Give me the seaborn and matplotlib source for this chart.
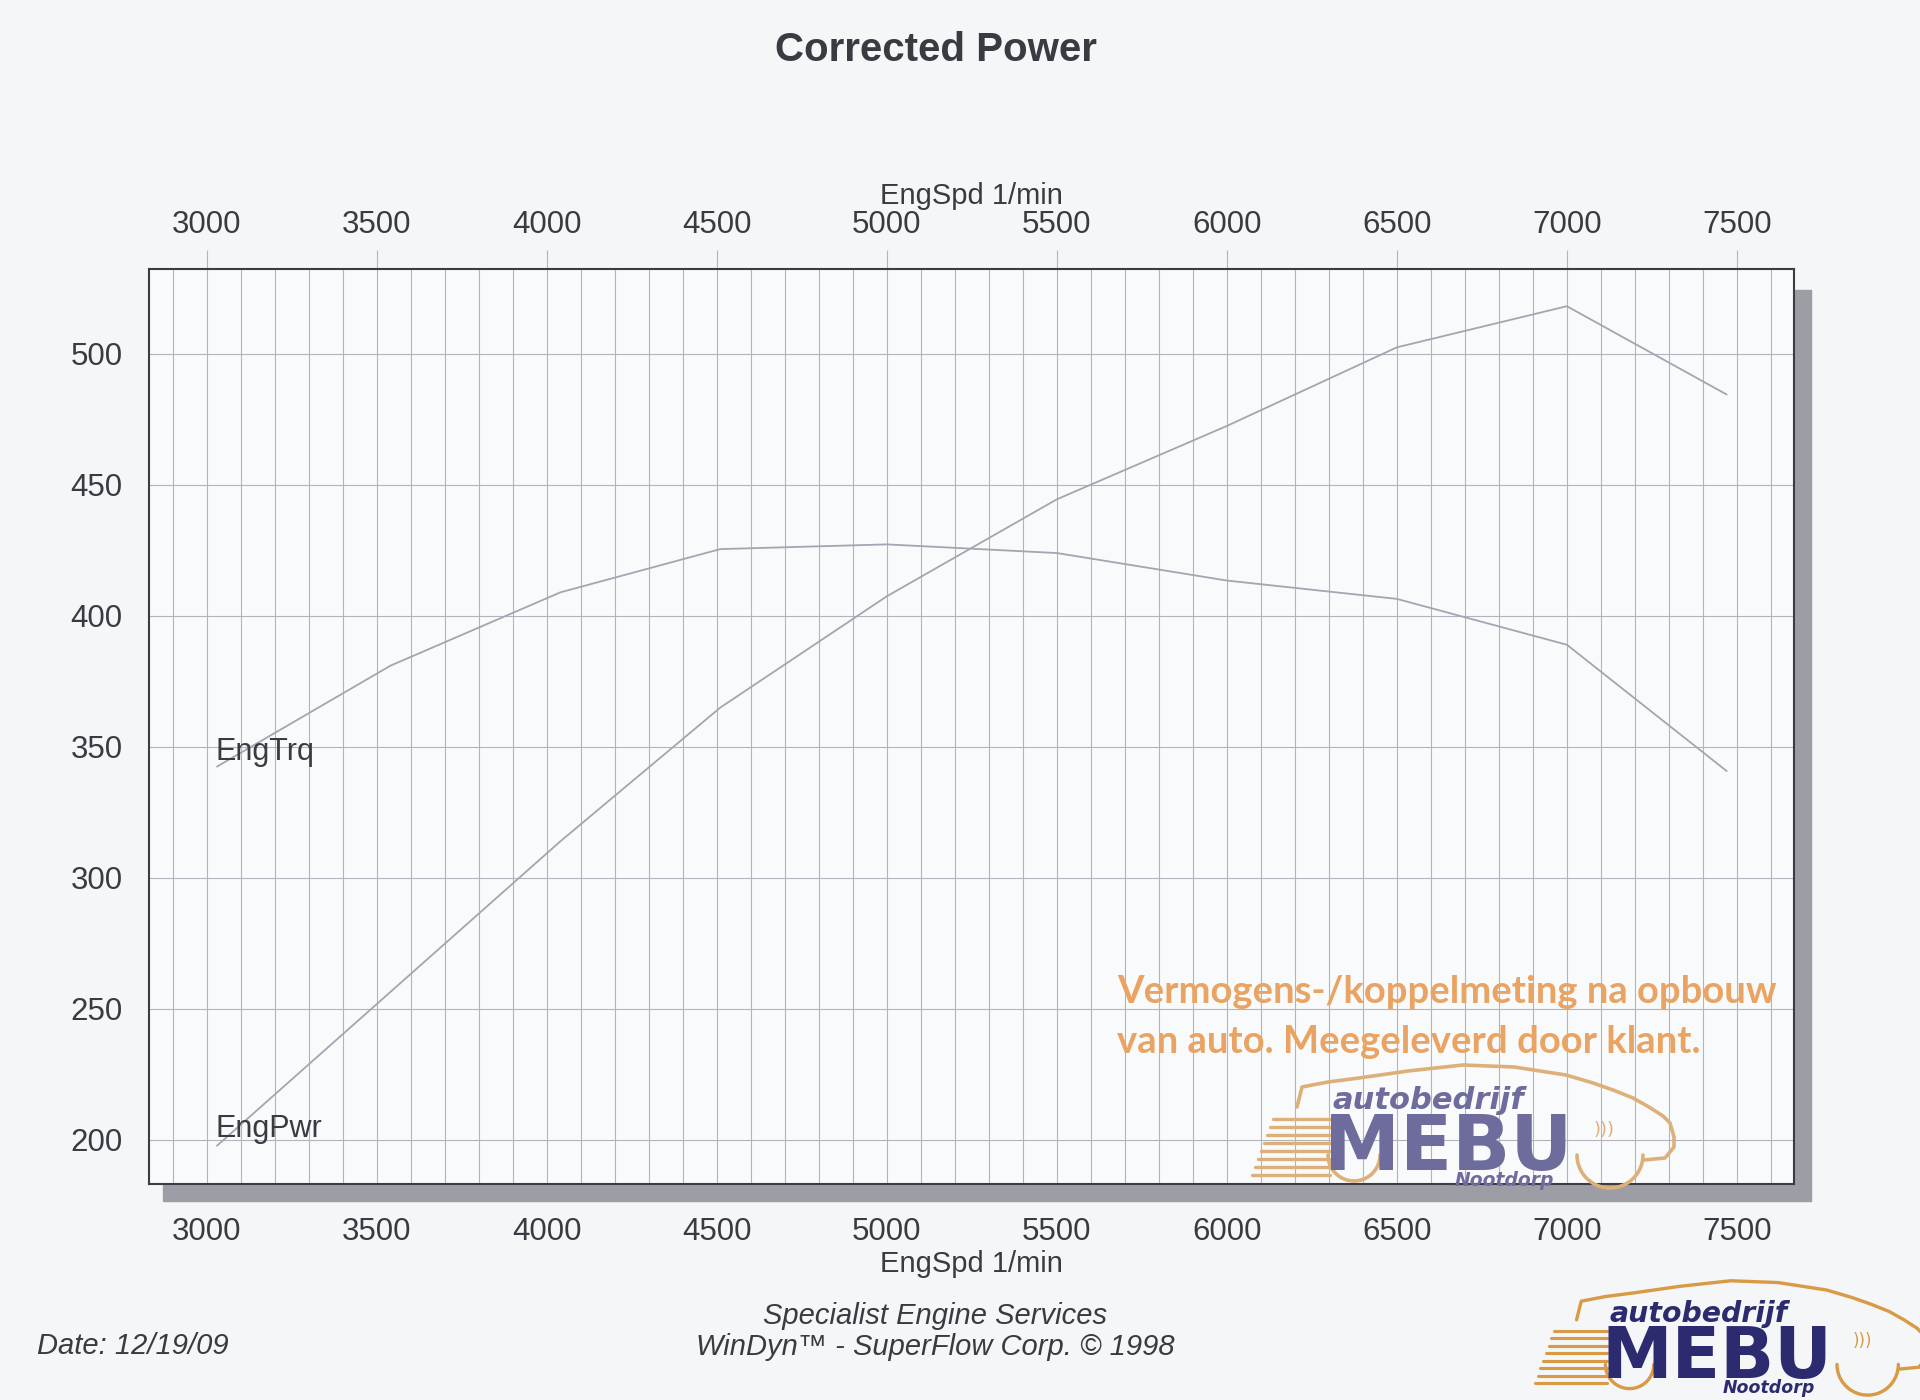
import pandas as pd
import matplotlib
matplotlib.use('Agg')
import matplotlib.pyplot as plt
from matplotlib.patches import Rectangle
from matplotlib.lines import Line2D
from matplotlib.ticker import MultipleLocator
import numpy as np
import seaborn as sns

# Dyno run, values
eng_spd = [3030, 3540, 4040, 4510, 5000, 5500, 6000, 6500, 7000, 7470]
eng_trq = [342.5, 381.0, 409.0, 425.5, 427.3, 424.0, 413.5, 406.5, 389.0, 340.8]
eng_pwr = [197.8, 256.5, 314.0, 365.0, 407.5, 444.5, 472.5, 502.5, 518.2, 484.5]

x_ticks = [3000, 3500, 4000, 4500, 5000, 5500, 6000, 6500, 7000, 7500]
y_ticks = [200, 250, 300, 350, 400, 450, 500]

df = pd.DataFrame({
    'EngSpd': eng_spd * 2,
    'value': eng_trq + eng_pwr,
    'series': ['EngTrq'] * len(eng_spd) + ['EngPwr'] * len(eng_spd),
})

sns.set_style('white')
plt.rcParams['font.family'] = ['Liberation Sans', 'DejaVu Sans']

W, H = 1920, 1400
PAPER = '#f5f6f8'
GRID = '#b3b3be'
TXT = '#3a3a42'
LINE = '#a4a5b2'


def fx(x):
    return x / W


def fy(y):
    return 1 - y / H


fig = plt.figure(figsize=(19.2, 14), dpi=100, facecolor=PAPER)
ax = fig.add_axes([fx(149), fy(1184), fx(1794) - fx(149), fy(269) - fy(1184)])
ax.set_facecolor('#f9fafb')

# drop shadow behind the plot box
fig.add_artist(Rectangle((fx(163), fy(1201)), fx(1811) - fx(163), fy(290) - fy(1201),
                         transform=fig.transFigure, color='#9d9da6', zorder=-1))

sns.lineplot(data=df, x='EngSpd', y='value', hue='series',
             palette={'EngTrq': LINE, 'EngPwr': LINE}, linewidth=1.3,
             estimator=None, sort=False, legend=False, ax=ax)

ax.set_xlim(2830, 7668)
ax.set_ylim(183.2, 532.4)
ax.set_xticks(x_ticks)
ax.set_xticklabels([str(t) for t in x_ticks])
ax.set_yticks(y_ticks)
ax.set_yticklabels([str(t) for t in y_ticks])
ax.xaxis.set_minor_locator(MultipleLocator(100))
ax.yaxis.set_minor_locator(MultipleLocator(10))

ax.grid(True, which='major', color=GRID, linewidth=0.8)
ax.grid(True, which='minor', axis='x', color=GRID, linewidth=0.8)
ax.set_axisbelow(True)

ax.tick_params(axis='x', which='major', direction='out', length=14, width=0.8,
               color=GRID, pad=10, labelsize=22.5, labelcolor=TXT)
ax.tick_params(axis='x', which='minor', length=0)
ax.tick_params(axis='y', which='major', direction='out', length=9, width=0.8,
               color=GRID, pad=10, labelsize=22.5, labelcolor=TXT)
ax.tick_params(axis='y', which='minor', direction='in', length=9, width=0.8, color=GRID)

for sp in ax.spines.values():
    sp.set_color('#3c3c44')
    sp.set_linewidth(1.5)

ax.set_xlabel('EngSpd 1/min', fontsize=21, color=TXT, labelpad=2)
ax.set_ylabel('')

top = ax.secondary_xaxis('top')
top.set_xticks(x_ticks)
top.set_xticklabels([str(t) for t in x_ticks])
top.tick_params(axis='x', direction='out', length=14, width=0.8, color=GRID,
                pad=7, labelsize=22.5, labelcolor=TXT)
top.spines['top'].set_visible(False)
top.set_xlabel('EngSpd 1/min', fontsize=21, color=TXT, labelpad=4)

ax.text(3025, 348, 'EngTrq', fontsize=22, color=TXT, ha='left', va='center')
ax.text(3025, 204, 'EngPwr', fontsize=22, color=TXT, ha='left', va='center')

fig.text(fx(936), fy(50), 'Corrected Power', fontsize=29, fontweight='bold',
         color=TXT, ha='center', va='center')

fig.text(fx(37), fy(1346), 'Date: 12/19/09', fontsize=21, style='italic',
         color=TXT, ha='left', va='center')
fig.text(fx(935), fy(1316), 'Specialist Engine Services', fontsize=21, style='italic',
         color=TXT, ha='center', va='center')
fig.text(fx(935), fy(1347), 'WinDyn\u2122 - SuperFlow Corp. \u00a9 1998', fontsize=21,
         style='italic', color=TXT, ha='center', va='center')

# orange stamp note
ORANGE = '#e9a362'
fig.text(fx(1117), fy(992), 'Vermogens-/koppelmeting na opbouw', fontsize=27.5,
         family=['Lato', 'DejaVu Sans'], fontweight='bold', color=ORANGE, ha='left', va='center')
fig.text(fx(1117), fy(1042), 'van auto. Meegeleverd door klant.', fontsize=27.5,
         family=['Lato', 'DejaVu Sans'], fontweight='bold', color=ORANGE, ha='left', va='center')


def draw_logo(cx, cy, s, navy, orange):
    def pts(offsets):
        return ([fx(cx + s * dx) for dx, dy in offsets],
                [fy(cy + s * dy) for dx, dy in offsets])

    roof = [(-151, -40), (-146, -60), (-120, -65), (-89, -69), (-40, -76), (15, -82),
            (66, -80), (118, -72), (145, -64), (165, -57), (185, -49), (201, -40),
            (215, -31), (222, -24), (226, -10), (226, 0), (217, 11), (196, 13)]
    xs, ys = pts(roof)
    fig.add_artist(Line2D(xs, ys, transform=fig.transFigure, color=orange, lw=2.6 * s,
                          solid_capstyle='round', solid_joinstyle='round', zorder=2))
    t = np.linspace(0, np.pi, 30)
    for wx, wy, r in [(162, 8, 33), (-94, 8, 26)]:
        xs, ys = pts(list(zip(wx + r * np.cos(t), wy + r * np.sin(t))))
        fig.add_artist(Line2D(xs, ys, transform=fig.transFigure, color=orange,
                              lw=2.6 * s, zorder=2))
    for i in range(8):
        dy = -28 + i * 8
        x0 = -175 - i * 3
        xs, ys = pts([(x0, dy), (-118, dy)])
        fig.add_artist(Line2D(xs, ys, transform=fig.transFigure, color=orange,
                              lw=2.4 * s, zorder=2))
    fig.text(fx(cx), fy(cy + 23 * s), 'MEBU', fontsize=55 * s, family='DejaVu Sans',
             fontweight='bold', color=navy, ha='center', va='baseline', zorder=3)
    fig.text(fx(cx - 20 * s), fy(cy - 38 * s), 'autobedrijf', fontsize=22 * s,
             family='DejaVu Sans', fontweight='bold', style='italic', color=navy,
             ha='center', va='baseline', zorder=3)
    fig.text(fx(cx + 56 * s), fy(cy + 39 * s), 'Nootdorp', fontsize=13.5 * s,
             family='DejaVu Sans', fontweight='bold', style='italic', color=navy,
             ha='center', va='baseline', zorder=3)
    fig.text(fx(cx + 156 * s), fy(cy - 17 * s), ')))', fontsize=13 * s,
             family='DejaVu Sans', color=orange, ha='center', va='center', zorder=3)


draw_logo(1448, 1147, 1.0, '#6d6c9d', '#ddb07a')
draw_logo(1717, 1357, 0.93, '#2c2b6f', '#d99a45')

fig.savefig('out.png', dpi=100, facecolor=PAPER)
